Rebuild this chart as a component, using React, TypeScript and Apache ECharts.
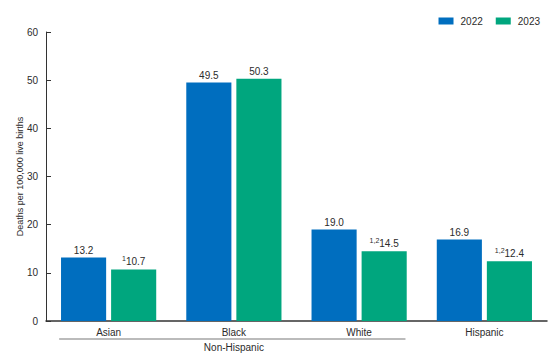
import React, { useEffect, useRef } from "react";
import * as echarts from "echarts";

const categories = ["Asian", "Black", "White", "Hispanic"];
const years = ["2022", "2023"];
const values2022 = [13.2, 49.5, 19.0, 16.9];
const values2023 = [10.7, 50.3, 14.5, 12.4];
const notes2023 = ["1", "", "1,2", "1,2"];
const groupLabel = "Non-Hispanic";
const yTitle = "Deaths per 100,000 live births";

const FONT = "Arial, 'Liberation Sans', sans-serif";
const BLUE = "#006EBF";
const GREEN = "#00A67E";
const TXT = "#2b2b2b";

export default function App() {
  const ref = useRef<HTMLDivElement>(null);
  useEffect(() => {
    if (!ref.current) return;
    const chart = echarts.init(ref.current, undefined, { renderer: "svg" });
    const labelBase = {
      show: true,
      position: "top",
      distance: 2,
      color: TXT,
      fontSize: 10,
      fontFamily: FONT,
    };
    chart.setOption({
      animation: false,
      textStyle: { fontFamily: FONT },
      legend: {
        data: years,
        right: 15,
        top: 11,
        itemWidth: 15,
        itemHeight: 7,
        itemGap: 13,
        icon: "rect",
        textStyle: { fontSize: 10, color: TXT, fontFamily: FONT, padding: [0, 0, 0, 2] },
      },
      grid: { left: 46, right: 13, top: 32, bottom: 43 },
      xAxis: {
        type: "category",
        data: categories,
        axisLine: { lineStyle: { color: "#333", width: 1.5 } },
        axisTick: { show: false },
        axisLabel: { color: TXT, fontSize: 10, margin: 6, fontFamily: FONT },
      },
      yAxis: {
        type: "value",
        min: 0,
        max: 60,
        interval: 10,
        name: yTitle,
        nameLocation: "middle",
        nameGap: 22,
        nameMoveOverlap: false,
        nameTextStyle: { fontSize: 9, color: TXT, fontFamily: FONT },
        axisLine: { show: true, lineStyle: { color: "#333", width: 1 } },
        axisTick: { show: true, inside: true, length: 5, lineStyle: { color: "#333" } },
        axisLabel: { color: TXT, fontSize: 10, margin: 8, fontFamily: FONT },
        splitLine: { show: false },
      },
      series: [
        {
          name: years[0],
          type: "bar",
          data: values2022,
          barGap: "11%",
          barCategoryGap: "24%",
          itemStyle: { color: BLUE },
          label: { ...labelBase, formatter: (p: any) => p.value.toFixed(1) },
        },
        {
          name: years[1],
          type: "bar",
          data: values2023,
          itemStyle: { color: GREEN },
          label: {
            ...labelBase,
            formatter: (p: any) => {
              const n = notes2023[p.dataIndex];
              const v = p.value.toFixed(1);
              return n ? `{sup|${n}}{v|${v}}` : `{v|${v}}`;
            },
            rich: {
              v: { fontSize: 10, color: TXT, fontFamily: FONT },
              sup: { fontSize: 7, color: TXT, fontFamily: FONT, padding: [0, 0, 5, 0] },
            },
          },
        },
      ],
    });

    const c0 = chart.convertToPixel({ xAxisIndex: 0 }, categories[0]) as number;
    const c1 = chart.convertToPixel({ xAxisIndex: 0 }, categories[1]) as number;
    const c2 = chart.convertToPixel({ xAxisIndex: 0 }, categories[2]) as number;
    const band = c1 - c0;
    const x1 = c0 - band * 0.395;
    const x2 = c2 + band * 0.37;
    chart.setOption({
      graphic: [
        {
          type: "line",
          shape: { x1, y1: 339, x2, y2: 339 },
          style: { stroke: "#bbbbbb", lineWidth: 2 },
          silent: true,
        },
        {
          type: "text",
          x: c1,
          y: 347,
          style: {
            text: groupLabel,
            fontSize: 10,
            fill: TXT,
            fontFamily: FONT,
            align: "center",
            verticalAlign: "middle",
          },
          silent: true,
        },
      ],
    });
    return () => chart.dispose();
  }, []);
  return <div ref={ref} style={{ width: 560, height: 364, position: "absolute", left: 0, top: 0 }} />;
}
